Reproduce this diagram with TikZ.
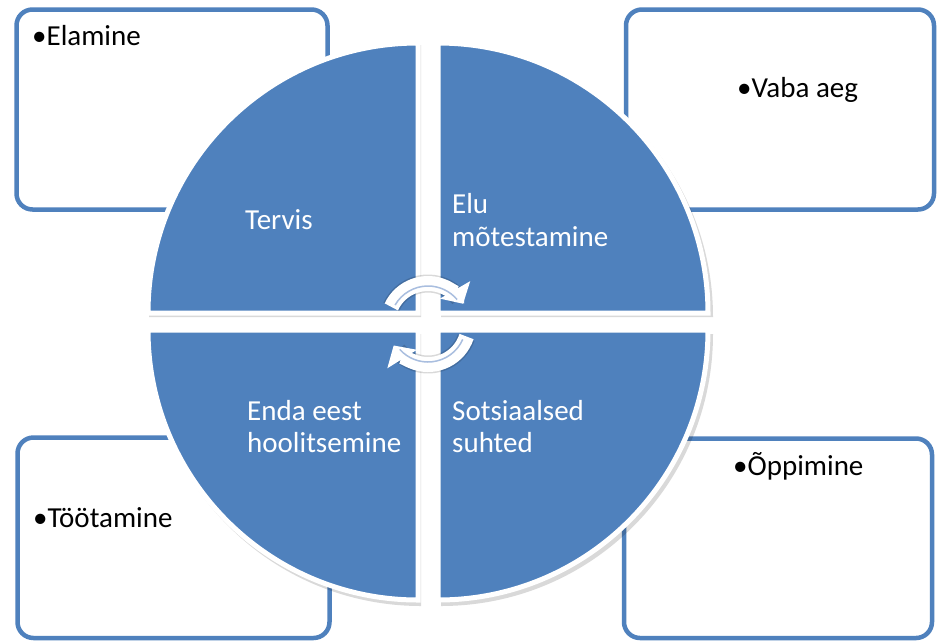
\documentclass[tikz,border=0pt]{standalone}
\usepackage{fontspec}
\setmainfont{Carlito}
\usetikzlibrary{arrows.meta}
\definecolor{accent}{HTML}{4F81BD}
\definecolor{arrline}{HTML}{A9BEDF}
\tikzset{
  outbox/.style={draw=accent, line width=4.5pt, fill=white, rounded corners=16pt},
  quad/.style={fill=accent, draw=white, line width=5pt},
  quadshadow/.style={fill=black, opacity=0.15},
  boxtext/.style={anchor=base west, inner sep=0pt, text=black, font=\fontsize{29}{34}\selectfont},
  quadtext/.style={anchor=base west, inner sep=0pt, text=white, font=\fontsize{29}{34}\selectfont},
  cycarrow/.style={draw=white, line width=15pt, -{Triangle[width=34pt,length=16pt]}},
  cycshadow/.style={draw=black, opacity=0.15, line width=18pt},
  cycline/.style={draw=arrline, line width=1.5pt}
}
\begin{document}
\begin{tikzpicture}[x=1pt,y=-1pt]
\useasboundingbox[fill=white] (0,0) rectangle (937,641);
% outer boxes
\draw[outbox] (16.5,9.5) rectangle (327.5,209.5);
\draw[outbox] (626,9.5) rectangle (934,209.5);
\draw[outbox] (17.5,437.5) rectangle (329.5,638);
\draw[outbox] (624,438.5) rectangle (932,638);
\node[boxtext] (t1) at (32,45) {•Elamine};
\node[boxtext] (t2) at (737,97) {•Vaba aeg};
\node[boxtext] (t3) at (33,527) {•Töötamine};
\node[boxtext] (t4) at (733,475) {•Õppimine};
% quadrant shadows
\fill[quadshadow] (421,317) -- (149,317) arc[start angle=180, end angle=270, radius=272] -- cycle;
\fill[quadshadow] (441,317) -- (441,45) arc[start angle=270, end angle=360, radius=272] -- cycle;
\fill[quadshadow] (441,334) -- (713,334) arc[start angle=0, end angle=90, radius=272] -- cycle;
\fill[quadshadow] (421,334) -- (421,606) arc[start angle=90, end angle=180, radius=272] -- cycle;
% quadrants
\draw[quad] (418,313) -- (148,313) arc[start angle=180, end angle=270, radius=270] -- cycle;
\draw[quad] (438,313) -- (438,43) arc[start angle=270, end angle=360, radius=270] -- cycle;
\draw[quad] (438,330) -- (708,330) arc[start angle=0, end angle=90, radius=270] -- cycle;
\draw[quad] (418,330) -- (418,600) arc[start angle=90, end angle=180, radius=270] -- cycle;
\node[quadtext] (q1) at (245,229) {Tervis};
\node[quadtext] (q2a) at (452,213) {Elu};
\node[quadtext] (q2b) at (452,246) {mõtestamine};
\node[quadtext] (q3a) at (452,420) {Sotsiaalsed};
\node[quadtext] (q3b) at (452,452) {suhted};
\node[quadtext] (q4a) at (247,420) {Enda eest};
\node[quadtext] (q4b) at (247,452) {hoolitsemine};
% cycle arrows
\coordinate (cc) at (428,324);
\draw[cycshadow] ([shift={(205:40.5)}]cc) arc[start angle=205, end angle=320, radius=40.5];
\draw[cycshadow] ([shift={(20:40.5)}]cc) arc[start angle=20, end angle=138, radius=40.5];
\draw[cycarrow] ([shift={(205:40.5)}]cc) arc[start angle=205, end angle=330, radius=40.5];
\draw[cycline] ([shift={(210:38)}]cc) arc[start angle=210, end angle=320, radius=38];
\draw[cycarrow] ([shift={(18:40.5)}]cc) arc[start angle=18, end angle=148, radius=40.5];
\draw[cycline] ([shift={(24:38)}]cc) arc[start angle=24, end angle=138, radius=38];
\end{tikzpicture}
\end{document}
